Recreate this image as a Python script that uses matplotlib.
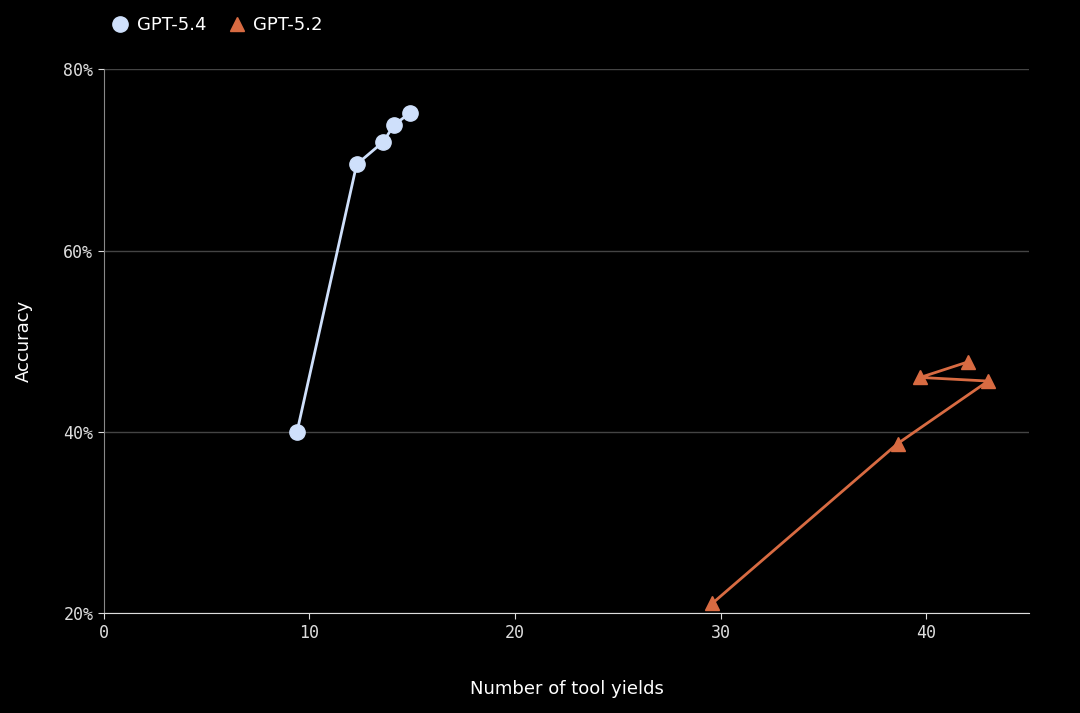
import numpy as np
import matplotlib.pyplot as plt
from matplotlib.ticker import FuncFormatter

gpt54_x = [9.4, 12.3, 13.6, 14.1, 14.9]
gpt54_y = [40.0, 69.5, 72.0, 73.8, 75.2]
gpt52_x = [29.6, 38.6, 43.0, 39.7, 42.0]
gpt52_y = [21.1, 38.7, 45.6, 46.0, 47.7]

bg = 'black'
fig = plt.figure(figsize=(10.8, 7.13), dpi=100, facecolor=bg)
ax = fig.add_axes([0.096, 0.14, 0.857, 0.763], facecolor=bg)

ax.plot(gpt54_x, gpt54_y, '-o', color='#cfe0fb', lw=2, ms=11, label='GPT-5.4')
ax.plot(gpt52_x, gpt52_y, '-^', color='#d86b42', lw=2, ms=10, label='GPT-5.2')

ax.set_xlim(0, 45)
ax.set_ylim(20, 80)
ax.set_xticks([0, 10, 20, 30, 40])
ax.set_yticks([20, 40, 60, 80])
ax.yaxis.set_major_formatter(FuncFormatter(lambda v, p: '%d%%' % v))
ax.grid(axis='y', color='#444444', lw=1)
ax.set_axisbelow(True)
for s in ['top', 'right']:
    ax.spines[s].set_visible(False)
ax.spines['left'].set_color('#888888')
ax.spines['bottom'].set_color('#dddddd')
ax.tick_params(colors='#dddddd', labelsize=12, length=4)
for lab in ax.get_xticklabels() + ax.get_yticklabels():
    lab.set_family('DejaVu Sans Mono')
ax.set_xlabel('Number of tool yields', color='white', fontsize=13, labelpad=28)
ax.set_ylabel('Accuracy', color='white', fontsize=13, labelpad=22)

leg = fig.legend(loc='upper left', bbox_to_anchor=(0.088, 1.0), ncol=2, frameon=False,
                 fontsize=13, handlelength=1.0, columnspacing=1.2, handletextpad=0.4,
                 labelcolor='white')
for h in leg.legend_handles:
    h.set_linestyle('')

fig.savefig('out.png', facecolor=bg)
